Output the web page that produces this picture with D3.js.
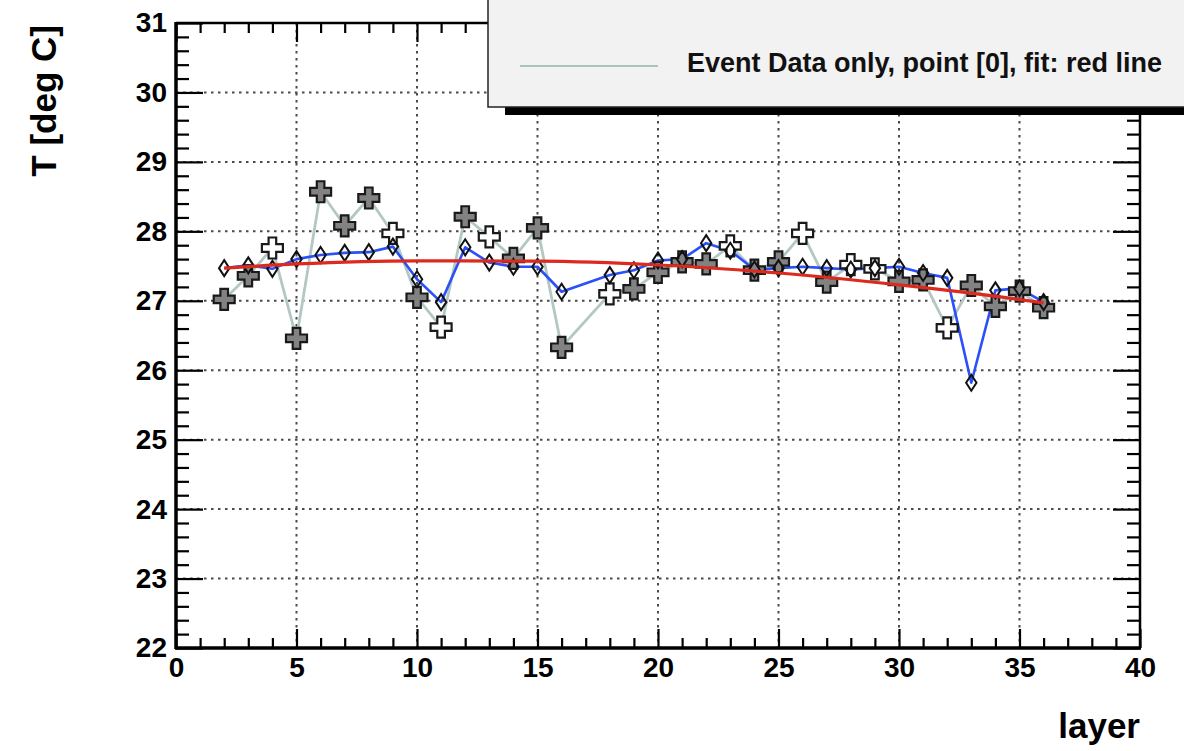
<!DOCTYPE html>
<html>
<head>
<meta charset="utf-8">
<script src="https://cdn.jsdelivr.net/npm/d3@7"></script>
<style>
  html, body { margin: 0; padding: 0; background: #fff; }
  svg { display: block; font-family: "Liberation Sans", Arial, Helvetica, sans-serif; font-weight: bold; }
</style>
</head>
<body>
<svg id="chart" width="1184" height="751"></svg>
<script>
// Layer numbers that carry a temperature reading (layer 17 has none)
const layers = [2, 3, 4, 5, 6, 7, 8, 9, 10, 11, 12, 13, 14, 15, 16,
                18, 19, 20, 21, 22, 23, 24, 25, 26, 27, 28, 29, 30, 31, 32, 33, 34, 35, 36];

// Event data only, point [0]
const eventTemp = [27.02, 27.36, 27.76, 26.46, 28.57, 28.08, 28.48, 27.97, 27.05, 26.62, 28.21, 27.92, 27.61, 28.05, 26.33,
                   27.10, 27.17, 27.41, 27.56, 27.53, 27.79, 27.44, 27.56, 27.97, 27.27, 27.52, 27.46, 27.28, 27.30, 26.61, 27.22, 26.92, 27.14, 26.90];
// 1 = open cross reading, 0 = filled reading
const eventOpen = [0, 0, 1, 0, 0, 0, 0, 1, 0, 1, 0, 1, 0, 0, 0,
                   1, 0, 0, 0, 0, 1, 0, 0, 1, 0, 1, 1, 0, 0, 1, 0, 0, 0, 0];

// Second series (blue)
const blueTemp = [27.47, 27.51, 27.46, 27.60, 27.66, 27.69, 27.70, 27.78, 27.31, 26.98, 27.77, 27.55, 27.49, 27.49, 27.13,
                  27.37, 27.44, 27.58, 27.60, 27.83, 27.72, 27.45, 27.47, 27.49, 27.47, 27.45, 27.47, 27.49, 27.40, 27.33, 25.82, 27.15, 27.18, 26.98];

// Fit curve (red line) read at several layers
const fitLayers = [2, 5, 10, 15, 20, 25, 30, 33, 36];
const fitTemp   = [27.47, 27.53, 27.575, 27.57, 27.515, 27.40, 27.23, 27.11, 26.97];

const xMajor = [0, 5, 10, 15, 20, 25, 30, 35, 40];
const yMajor = [22, 23, 24, 25, 26, 27, 28, 29, 30, 31];
const xTitle = "layer";
const yTitle = "T [deg C]";
const legendLabel = "Event Data only, point [0], fit: red line";

const svg = d3.select("#chart");
const frame = { left: 176, right: 1140, top: 23, bottom: 648 };

const x = d3.scaleLinear().domain([0, 40]).range([frame.left, frame.right]);
const y = d3.scaleLinear().domain([22, 31]).range([frame.bottom, frame.top]);

const xMinor = d3.range(0, 40.001, 1).filter(v => v % 5 !== 0);
const yMinor = d3.range(22, 31.001, 0.2).map(v => +v.toFixed(1)).filter(v => Math.abs(v - Math.round(v)) > 1e-6);

// dotted grid at the major ticks
const grid = svg.append("g").attr("stroke", "#4a4a4a").attr("stroke-width", 2).attr("stroke-dasharray", "2.5,4.5");
grid.selectAll("line.gx").data(xMajor.filter(v => v > 0 && v < 40)).join("line")
  .attr("class", "gx")
  .attr("x1", d => x(d)).attr("x2", d => x(d)).attr("y1", frame.top).attr("y2", frame.bottom);
grid.selectAll("line.gy").data(yMajor.filter(v => v > 22 && v < 31)).join("line")
  .attr("class", "gy")
  .attr("x1", frame.left).attr("x2", frame.right).attr("y1", d => y(d)).attr("y2", d => y(d));

// axes: ticks drawn inward on all four sides, labels on bottom and left
function clean(g) { g.select(".domain").remove(); g.selectAll(".tick line").attr("stroke", "#000").attr("stroke-width", 2.2); }
function labelStyle(g) {
  g.selectAll("text").attr("font-size", 28).attr("font-family", "Liberation Sans, Arial, sans-serif")
    .attr("font-weight", "bold").attr("fill", "#000");
}

svg.append("g").attr("transform", `translate(0,${frame.bottom})`)
  .call(d3.axisBottom(x).tickValues(xMajor).tickSize(-19).tickPadding(9).tickFormat(d3.format("d")))
  .call(clean).call(labelStyle);
svg.append("g").attr("transform", `translate(0,${frame.bottom})`)
  .call(d3.axisBottom(x).tickValues(xMinor).tickSize(-10).tickFormat(""))
  .call(clean);
svg.append("g").attr("transform", `translate(0,${frame.top})`)
  .call(d3.axisTop(x).tickValues(xMajor).tickSize(-19).tickFormat(""))
  .call(clean);
svg.append("g").attr("transform", `translate(0,${frame.top})`)
  .call(d3.axisTop(x).tickValues(xMinor).tickSize(-10).tickFormat(""))
  .call(clean);

svg.append("g").attr("transform", `translate(${frame.left},0)`)
  .call(d3.axisLeft(y).tickValues(yMajor).tickSize(-27).tickPadding(9).tickFormat(d3.format("d")))
  .call(clean).call(labelStyle);
svg.append("g").attr("transform", `translate(${frame.left},0)`)
  .call(d3.axisLeft(y).tickValues(yMinor).tickSize(-13).tickFormat(""))
  .call(clean);
svg.append("g").attr("transform", `translate(${frame.right},0)`)
  .call(d3.axisRight(y).tickValues(yMajor).tickSize(-27).tickFormat(""))
  .call(clean);
svg.append("g").attr("transform", `translate(${frame.right},0)`)
  .call(d3.axisRight(y).tickValues(yMinor).tickSize(-13).tickFormat(""))
  .call(clean);

// frame
svg.append("line").attr("x1", frame.left).attr("x2", frame.right).attr("y1", frame.top).attr("y2", frame.top).attr("stroke", "#000").attr("stroke-width", 2.5);
svg.append("line").attr("x1", frame.right).attr("x2", frame.right).attr("y1", frame.top).attr("y2", frame.bottom).attr("stroke", "#000").attr("stroke-width", 2.5);
svg.append("line").attr("x1", frame.left - 1).attr("x2", frame.right + 1).attr("y1", frame.bottom).attr("y2", frame.bottom).attr("stroke", "#000").attr("stroke-width", 3.5);
svg.append("line").attr("x1", frame.left).attr("x2", frame.left).attr("y1", frame.top - 1).attr("y2", frame.bottom + 1).attr("stroke", "#000").attr("stroke-width", 3.5);

// series
const pts = layers.map((l, i) => ({ l, ev: eventTemp[i], open: eventOpen[i], bl: blueTemp[i] }));

const line = d3.line();
svg.append("path")
  .attr("d", line(pts.map(p => [x(p.l), y(p.ev)])))
  .attr("fill", "none").attr("stroke", "#b3c8c4").attr("stroke-width", 2.8).attr("stroke-linejoin", "round");
svg.append("path")
  .attr("d", line(pts.map(p => [x(p.l), y(p.bl)])))
  .attr("fill", "none").attr("stroke", "#2a50f8").attr("stroke-width", 2.6).attr("stroke-linejoin", "round");

const h = 10.5, w = 3.8;
const crossPath = `M${-w},${-h}L${w},${-h}L${w},${-w}L${h},${-w}L${h},${w}L${w},${w}L${w},${h}L${-w},${h}L${-w},${w}L${-h},${w}L${-h},${-w}L${-w},${-w}Z`;
svg.append("g").selectAll("path").data(pts).join("path")
  .attr("d", crossPath)
  .attr("transform", p => `translate(${x(p.l)},${y(p.ev)})`)
  .attr("fill", p => p.open ? "#ffffff" : "#828282")
  .attr("stroke", "#1a1a1a").attr("stroke-width", 2.2);

const diamond = "M0,-8L5.2,0L0,8L-5.2,0Z";
svg.append("g").selectAll("path").data(pts).join("path")
  .attr("d", diamond)
  .attr("transform", p => `translate(${x(p.l)},${y(p.bl)})`)
  .attr("fill", "none").attr("stroke", "#111").attr("stroke-width", 2);

// fit curve
svg.append("path")
  .attr("d", d3.line().curve(d3.curveMonotoneX)(fitLayers.map((l, i) => [x(l), y(fitTemp[i])])))
  .attr("fill", "none").attr("stroke", "#dd2a1e").attr("stroke-width", 3.2);

// legend with drop shadow
svg.append("rect").attr("x", 505).attr("y", -10).attr("width", 720).attr("height", 125).attr("fill", "#000");
svg.append("rect").attr("x", 488).attr("y", -10).attr("width", 720).attr("height", 117)
  .attr("fill", "#f2f2f2").attr("stroke", "#222").attr("stroke-width", 1.5);
svg.append("line").attr("x1", 520).attr("x2", 658).attr("y1", 66).attr("y2", 66)
  .attr("stroke", "#a9c4c0").attr("stroke-width", 2);
svg.append("text").attr("x", 687).attr("y", 72).attr("font-size", 27).attr("fill", "#111")
  .text(legendLabel);

// axis titles
svg.append("text").attr("transform", "translate(56,25) rotate(-90)")
  .attr("text-anchor", "end").attr("font-size", 35).attr("fill", "#000").text(yTitle);
svg.append("text").attr("x", frame.right).attr("y", 738)
  .attr("text-anchor", "end").attr("font-size", 35).attr("fill", "#000").text(xTitle);
</script>
</body>
</html>
